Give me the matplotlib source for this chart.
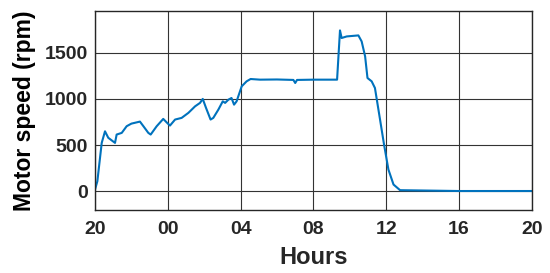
import numpy as np
import matplotlib.pyplot as plt

# hours after 20:00
hours = [0, 0.13, 0.37, 0.55, 0.73, 1.1, 1.19, 1.47, 1.74, 2.0, 2.47, 2.66, 2.93,
         3.06, 3.39, 3.75, 3.97, 4.12, 4.4, 4.76, 5.13, 5.5, 5.77, 5.92, 6.1, 6.35,
         6.5, 6.78, 7.02, 7.15, 7.33, 7.5, 7.64, 7.78, 8.06, 8.33, 8.55, 9.07, 10.0,
         10.9, 11.0, 11.1, 12.0, 13.3, 13.46, 13.55, 13.83, 14.47, 14.65, 14.84,
         14.97, 15.2, 15.38, 15.66, 15.88, 16.12, 16.4, 16.76, 20.0, 24.0]
speed = [20, 110, 525, 650, 580, 525, 615, 633, 705, 733, 755, 705, 633,
         615, 705, 784, 740, 712, 777, 795, 849, 920, 957, 1000, 903, 777,
         795, 885, 974, 957, 992, 1010, 938, 974, 1136, 1190, 1215, 1208, 1210,
         1205, 1172, 1205, 1208, 1208, 1740, 1658, 1675, 1686, 1621, 1460,
         1226, 1190, 1118, 777, 507, 237, 75, 14, 5, 5]

xticks = [0, 4, 8, 12, 16, 20, 24]
xticklabels = ['20', '00', '04', '08', '12', '16', '20']
yticks = [0, 500, 1000, 1500]

plt.rcParams['font.family'] = ['Liberation Sans', 'DejaVu Sans']
plt.rcParams['font.weight'] = 'bold'

fig = plt.figure(figsize=(5.5, 2.73), dpi=100)
ax = fig.add_axes([0.1727, 0.2308, 0.7943, 0.729])

ax.plot(hours, speed, color='#0072BD', linewidth=1.5)

ax.set_xlim(0, 24)
ax.set_ylim(-200, 1950)
ax.set_xticks(xticks)
ax.set_xticklabels(xticklabels)
ax.set_yticks(yticks)
ax.grid(True, color='#333333', linewidth=0.8)
ax.tick_params(length=0, labelsize=14, colors='#262626')
ax.tick_params(axis='y', pad=5)
ax.tick_params(axis='x', pad=8)
for s in ax.spines.values():
    s.set_color('#262626')
    s.set_linewidth(1.0)

ax.set_xlabel('Hours', fontsize=17, fontweight='bold', color='#262626', labelpad=6)
ax.set_ylabel('Motor speed (rpm)', fontsize=16.5, fontweight='bold', color='black', labelpad=6)

fig.savefig('out.png', dpi=100)
